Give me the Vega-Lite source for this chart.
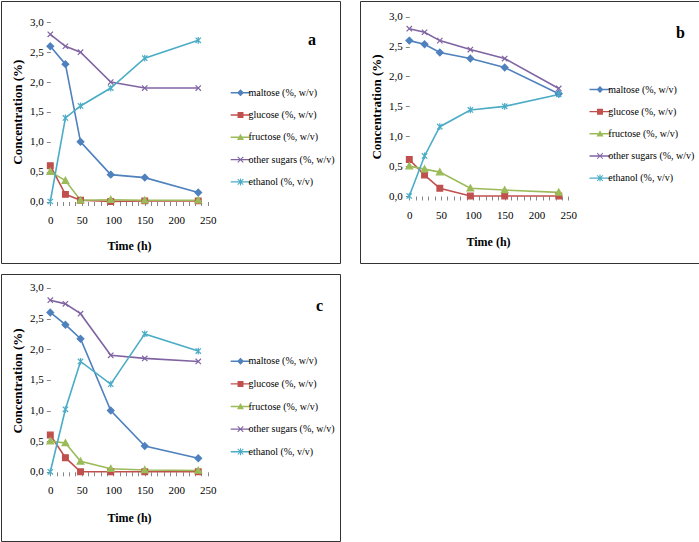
{
  "$schema": "https://vega.github.io/schema/vega-lite/v6.json",
  "background": "white",
  "padding": 0,
  "bounds": "flush",
  "columns": 2,
  "spacing": {"row": 11, "column": 20},
  "data": {"values": [
    {"panel":"a","series":"maltose (%, w/v)","time":0,"value":2.6},
    {"panel":"a","series":"maltose (%, w/v)","time":24,"value":2.3},
    {"panel":"a","series":"maltose (%, w/v)","time":48,"value":1.0},
    {"panel":"a","series":"maltose (%, w/v)","time":96,"value":0.45},
    {"panel":"a","series":"maltose (%, w/v)","time":150,"value":0.4},
    {"panel":"a","series":"maltose (%, w/v)","time":235,"value":0.15},
    {"panel":"a","series":"glucose (%, w/v)","time":0,"value":0.6},
    {"panel":"a","series":"glucose (%, w/v)","time":24,"value":0.12},
    {"panel":"a","series":"glucose (%, w/v)","time":48,"value":0.02},
    {"panel":"a","series":"glucose (%, w/v)","time":96,"value":0.0},
    {"panel":"a","series":"glucose (%, w/v)","time":150,"value":0.01},
    {"panel":"a","series":"glucose (%, w/v)","time":235,"value":0.01},
    {"panel":"a","series":"fructose (%, w/v)","time":0,"value":0.5},
    {"panel":"a","series":"fructose (%, w/v)","time":24,"value":0.35},
    {"panel":"a","series":"fructose (%, w/v)","time":48,"value":0.02},
    {"panel":"a","series":"fructose (%, w/v)","time":96,"value":0.03},
    {"panel":"a","series":"fructose (%, w/v)","time":150,"value":0.02},
    {"panel":"a","series":"fructose (%, w/v)","time":235,"value":0.02},
    {"panel":"a","series":"other sugars (%, w/v)","time":0,"value":2.8},
    {"panel":"a","series":"other sugars (%, w/v)","time":24,"value":2.6},
    {"panel":"a","series":"other sugars (%, w/v)","time":48,"value":2.5},
    {"panel":"a","series":"other sugars (%, w/v)","time":96,"value":2.0},
    {"panel":"a","series":"other sugars (%, w/v)","time":150,"value":1.9},
    {"panel":"a","series":"other sugars (%, w/v)","time":235,"value":1.9},
    {"panel":"a","series":"ethanol (%, v/v)","time":0,"value":0.0},
    {"panel":"a","series":"ethanol (%, v/v)","time":24,"value":1.4},
    {"panel":"a","series":"ethanol (%, v/v)","time":48,"value":1.6},
    {"panel":"a","series":"ethanol (%, v/v)","time":96,"value":1.9},
    {"panel":"a","series":"ethanol (%, v/v)","time":150,"value":2.4},
    {"panel":"a","series":"ethanol (%, v/v)","time":235,"value":2.7},
    {"panel":"b","series":"maltose (%, w/v)","time":0,"value":2.6},
    {"panel":"b","series":"maltose (%, w/v)","time":24,"value":2.54},
    {"panel":"b","series":"maltose (%, w/v)","time":48,"value":2.4},
    {"panel":"b","series":"maltose (%, w/v)","time":96,"value":2.3},
    {"panel":"b","series":"maltose (%, w/v)","time":150,"value":2.15},
    {"panel":"b","series":"maltose (%, w/v)","time":235,"value":1.71},
    {"panel":"b","series":"glucose (%, w/v)","time":0,"value":0.61},
    {"panel":"b","series":"glucose (%, w/v)","time":24,"value":0.35},
    {"panel":"b","series":"glucose (%, w/v)","time":48,"value":0.13},
    {"panel":"b","series":"glucose (%, w/v)","time":96,"value":0.0},
    {"panel":"b","series":"glucose (%, w/v)","time":150,"value":0.0},
    {"panel":"b","series":"glucose (%, w/v)","time":235,"value":0.0},
    {"panel":"b","series":"fructose (%, w/v)","time":0,"value":0.5},
    {"panel":"b","series":"fructose (%, w/v)","time":24,"value":0.45},
    {"panel":"b","series":"fructose (%, w/v)","time":48,"value":0.4},
    {"panel":"b","series":"fructose (%, w/v)","time":96,"value":0.13},
    {"panel":"b","series":"fructose (%, w/v)","time":150,"value":0.1},
    {"panel":"b","series":"fructose (%, w/v)","time":235,"value":0.06},
    {"panel":"b","series":"other sugars (%, w/v)","time":0,"value":2.8},
    {"panel":"b","series":"other sugars (%, w/v)","time":24,"value":2.74},
    {"panel":"b","series":"other sugars (%, w/v)","time":48,"value":2.6},
    {"panel":"b","series":"other sugars (%, w/v)","time":96,"value":2.45},
    {"panel":"b","series":"other sugars (%, w/v)","time":150,"value":2.3},
    {"panel":"b","series":"other sugars (%, w/v)","time":235,"value":1.8},
    {"panel":"b","series":"ethanol (%, v/v)","time":0,"value":0.0},
    {"panel":"b","series":"ethanol (%, v/v)","time":24,"value":0.67},
    {"panel":"b","series":"ethanol (%, v/v)","time":48,"value":1.16},
    {"panel":"b","series":"ethanol (%, v/v)","time":96,"value":1.44},
    {"panel":"b","series":"ethanol (%, v/v)","time":150,"value":1.5},
    {"panel":"b","series":"ethanol (%, v/v)","time":235,"value":1.7},
    {"panel":"c","series":"maltose (%, w/v)","time":0,"value":2.6},
    {"panel":"c","series":"maltose (%, w/v)","time":24,"value":2.4},
    {"panel":"c","series":"maltose (%, w/v)","time":48,"value":2.17},
    {"panel":"c","series":"maltose (%, w/v)","time":96,"value":1.0},
    {"panel":"c","series":"maltose (%, w/v)","time":150,"value":0.42},
    {"panel":"c","series":"maltose (%, w/v)","time":235,"value":0.22},
    {"panel":"c","series":"glucose (%, w/v)","time":0,"value":0.6},
    {"panel":"c","series":"glucose (%, w/v)","time":24,"value":0.23},
    {"panel":"c","series":"glucose (%, w/v)","time":48,"value":0.0},
    {"panel":"c","series":"glucose (%, w/v)","time":96,"value":0.0},
    {"panel":"c","series":"glucose (%, w/v)","time":150,"value":0.0},
    {"panel":"c","series":"glucose (%, w/v)","time":235,"value":0.0},
    {"panel":"c","series":"fructose (%, w/v)","time":0,"value":0.5},
    {"panel":"c","series":"fructose (%, w/v)","time":24,"value":0.47},
    {"panel":"c","series":"fructose (%, w/v)","time":48,"value":0.17},
    {"panel":"c","series":"fructose (%, w/v)","time":96,"value":0.05},
    {"panel":"c","series":"fructose (%, w/v)","time":150,"value":0.03},
    {"panel":"c","series":"fructose (%, w/v)","time":235,"value":0.02},
    {"panel":"c","series":"other sugars (%, w/v)","time":0,"value":2.8},
    {"panel":"c","series":"other sugars (%, w/v)","time":24,"value":2.74},
    {"panel":"c","series":"other sugars (%, w/v)","time":48,"value":2.58},
    {"panel":"c","series":"other sugars (%, w/v)","time":96,"value":1.9},
    {"panel":"c","series":"other sugars (%, w/v)","time":150,"value":1.85},
    {"panel":"c","series":"other sugars (%, w/v)","time":235,"value":1.8},
    {"panel":"c","series":"ethanol (%, v/v)","time":0,"value":0.0},
    {"panel":"c","series":"ethanol (%, v/v)","time":24,"value":1.02},
    {"panel":"c","series":"ethanol (%, v/v)","time":48,"value":1.8},
    {"panel":"c","series":"ethanol (%, v/v)","time":96,"value":1.43},
    {"panel":"c","series":"ethanol (%, v/v)","time":150,"value":2.25},
    {"panel":"c","series":"ethanol (%, v/v)","time":235,"value":1.97}
  ]},
  "concat": [
    {
      "width": 339, "height": 262,
      "title": {"text": "a", "orient": "top", "anchor": "end", "frame": "group", "offset": -47, "dx": -24, "font": "Liberation Serif", "fontSize": 16, "fontWeight": "bold", "color": "#000"},
      "transform": [{"filter": "datum.panel === 'a'"}],
      "encoding": {
        "x": {"field": "time", "type": "quantitative", "scale": {"domain": [-78.3, 460.1], "nice": false, "zero": false},
          "axis": {"values": [0,10,20,30,40,50,60,70,80,90,100,110,120,130,140,150,160,170,180,190,200,210,220,230,240,250], "labelExpr": "datum.value % 50 === 0 ? datum.label : ''", "offset": -61.5, "tickSize": 4, "labelPadding": 9, "labelFont": "Liberation Serif", "labelFontSize": 11, "title": "Time (h)", "titleFont": "Liberation Serif", "titleFontSize": 12, "titleFontWeight": "bold", "titleX": 128, "titleY": 44, "titleBaseline": "middle", "titleAnchor": null}},
        "y": {"field": "value", "type": "quantitative", "scale": {"domain": [-1.03, 3.358], "nice": false, "zero": false},
          "axis": {"values": [0,0.5,1,1.5,2,2.5,3], "labelExpr": "replace(format(datum.value, '.1f'), '.', ',')", "offset": -49.3, "tickSize": 4, "labelPadding": 3, "labelFont": "Liberation Serif", "labelFontSize": 11, "title": "Concentration (%)", "titleFont": "Liberation Serif", "titleFontSize": 13, "titleFontWeight": "bold", "titleX": -32.6, "titleY": 110.6, "titleBaseline": "middle", "titleAngle": -90}}
      },
      "layer": [
        {"mark": {"type": "line", "strokeWidth": 1.6},
         "encoding": {"color": {"field": "series", "type": "nominal", "legend": null, "scale": {"domain": ["maltose (%, w/v)","glucose (%, w/v)","fructose (%, w/v)","other sugars (%, w/v)","ethanol (%, v/v)"], "range": ["#4F81BD","#C0504D","#9BBB59","#8064A2","#4BACC6"]}}}},
        {"mark": {"type": "point", "filled": true, "size": 45, "strokeWidth": 1.2, "opacity": 1},
         "encoding": {
           "fill": {"field": "series", "type": "nominal", "legend": null, "scale": {"domain": ["maltose (%, w/v)","glucose (%, w/v)","fructose (%, w/v)","other sugars (%, w/v)","ethanol (%, v/v)"], "range": ["#4F81BD","#C0504D","#9BBB59","#8064A2","#4BACC6"]}},
           "stroke": {"field": "series", "type": "nominal", "legend": null, "scale": {"domain": ["maltose (%, w/v)","glucose (%, w/v)","fructose (%, w/v)","other sugars (%, w/v)","ethanol (%, v/v)"], "range": ["#4F81BD","#C0504D","#9BBB59","#8064A2","#4BACC6"]}},
           "shape": {"field": "series", "type": "nominal", "legend": null, "scale": {"domain": ["maltose (%, w/v)","glucose (%, w/v)","fructose (%, w/v)","other sugars (%, w/v)","ethanol (%, v/v)"], "range": ["M0,-1L1,0L0,1L-1,0Z","M-0.85,-0.85H0.85V0.85H-0.85Z","M0,-1L1,0.8H-1Z","M-0.8,-0.8L0.8,0.8M-0.8,0.8L0.8,-0.8","M-0.8,-0.8L0.8,0.8M-0.8,0.8L0.8,-0.8M0,-1V1"]}}
         }},
        {"mark": {"type": "point", "filled": true, "size": 0},
         "encoding": {
           "color": {"field": "series", "type": "nominal",
             "legend": {"orient": "none", "legendX": 234.5, "legendY": 86.7, "title": null, "padding": 0, "symbolSize": 49, "symbolStrokeWidth": 0, "symbolFillColor": "#000000", "symbolOpacity": 1, "labelOffset": 3, "rowPadding": 12.3, "labelFont": "Liberation Serif", "labelFontSize": 10, "labelColor": "#000"},
             "scale": {"domain": ["maltose (%, w/v)","glucose (%, w/v)","fructose (%, w/v)","other sugars (%, w/v)","ethanol (%, v/v)"], "range": ["#4F81BD","#C0504D","#9BBB59","#8064A2","#4BACC6"]}},
           "shape": {"field": "series", "type": "nominal",
             "legend": {"orient": "none", "legendX": 234.5, "legendY": 86.7, "title": null, "padding": 0, "symbolSize": 49, "symbolStrokeWidth": 0, "symbolFillColor": "#000000", "symbolOpacity": 1, "labelOffset": 3, "rowPadding": 12.3, "labelFont": "Liberation Serif", "labelFontSize": 10, "labelColor": "#000"},
             "scale": {"domain": ["maltose (%, w/v)","glucose (%, w/v)","fructose (%, w/v)","other sugars (%, w/v)","ethanol (%, v/v)"], "range": [
               "M-2.8,-0.2H2.8V0.2H-2.8ZM0,-1L1,0L0,1L-1,0Z",
               "M-2.8,-0.2H2.8V0.2H-2.8ZM-0.85,-0.85H0.85V0.85H-0.85Z",
               "M-2.8,-0.2H2.8V0.2H-2.8ZM0,-1L1,0.8H-1Z",
               "M-2.8,-0.2H2.8V0.2H-2.8ZM-0.694,-0.906L0.906,0.694L0.694,0.906L-0.906,-0.694ZM-0.906,0.694L0.694,-0.906L0.906,-0.694L-0.694,0.906Z",
               "M-2.8,-0.2H2.8V0.2H-2.8ZM-0.694,-0.906L0.906,0.694L0.694,0.906L-0.906,-0.694ZM-0.906,0.694L0.694,-0.906L0.906,-0.694L-0.694,0.906ZM-0.15,-1H0.15V1H-0.15Z"]}}
         }},
        {"data": {"values": [{"panel": "a"}]}, "mark": {"type": "rule", "color": "#868686", "strokeWidth": 1}, "encoding": {"x": {"datum": 0}, "x2": {"datum": 250}, "y": {"datum": 0}}},
        {"data": {"values": [{"panel": "a"}]}, "mark": {"type": "rule", "color": "#868686", "strokeWidth": 1}, "encoding": {"x": {"datum": 0}, "y": {"datum": 0}, "y2": {"datum": 3}}}
      ],
      "resolve": {"scale": {"shape": "independent", "color": "independent"}}
    },
    {
      "width": 339, "height": 262,
      "title": {"text": "b", "orient": "top", "anchor": "end", "frame": "group", "offset": -40, "dx": -14, "font": "Liberation Serif", "fontSize": 16, "fontWeight": "bold", "color": "#000"},
      "transform": [{"filter": "datum.panel === 'b'"}],
      "encoding": {
        "x": {"field": "time", "type": "quantitative", "scale": {"domain": [-77.5, 455.5], "nice": false, "zero": false},
          "axis": {"values": [0,10,20,30,40,50,60,70,80,90,100,110,120,130,140,150,160,170,180,190,200,210,220,230,240,250], "labelExpr": "datum.value % 50 === 0 ? datum.label : ''", "offset": -67, "tickSize": 4, "labelPadding": 9, "labelFont": "Liberation Serif", "labelFontSize": 11, "title": "Time (h)", "titleFont": "Liberation Serif", "titleFontSize": 12, "titleFontWeight": "bold", "titleX": 128, "titleY": 45, "titleBaseline": "middle", "titleAnchor": null}},
        "y": {"field": "value", "type": "quantitative", "scale": {"domain": [-1.121, 3.263], "nice": false, "zero": false},
          "axis": {"values": [0,0.5,1,1.5,2,2.5,3], "labelExpr": "replace(format(datum.value, '.1f'), '.', ',')", "offset": -49.3, "tickSize": 4, "labelPadding": 3, "labelFont": "Liberation Serif", "labelFontSize": 11, "title": "Concentration (%)", "titleFont": "Liberation Serif", "titleFontSize": 13, "titleFontWeight": "bold", "titleX": -32.6, "titleY": 105.5, "titleBaseline": "middle", "titleAngle": -90}}
      },
      "layer": [
        {"mark": {"type": "line", "strokeWidth": 1.6},
         "encoding": {"color": {"field": "series", "type": "nominal", "legend": null, "scale": {"domain": ["maltose (%, w/v)","glucose (%, w/v)","fructose (%, w/v)","other sugars (%, w/v)","ethanol (%, v/v)"], "range": ["#4F81BD","#C0504D","#9BBB59","#8064A2","#4BACC6"]}}}},
        {"mark": {"type": "point", "filled": true, "size": 45, "strokeWidth": 1.2, "opacity": 1},
         "encoding": {
           "fill": {"field": "series", "type": "nominal", "legend": null, "scale": {"domain": ["maltose (%, w/v)","glucose (%, w/v)","fructose (%, w/v)","other sugars (%, w/v)","ethanol (%, v/v)"], "range": ["#4F81BD","#C0504D","#9BBB59","#8064A2","#4BACC6"]}},
           "stroke": {"field": "series", "type": "nominal", "legend": null, "scale": {"domain": ["maltose (%, w/v)","glucose (%, w/v)","fructose (%, w/v)","other sugars (%, w/v)","ethanol (%, v/v)"], "range": ["#4F81BD","#C0504D","#9BBB59","#8064A2","#4BACC6"]}},
           "shape": {"field": "series", "type": "nominal", "legend": null, "scale": {"domain": ["maltose (%, w/v)","glucose (%, w/v)","fructose (%, w/v)","other sugars (%, w/v)","ethanol (%, v/v)"], "range": ["M0,-1L1,0L0,1L-1,0Z","M-0.85,-0.85H0.85V0.85H-0.85Z","M0,-1L1,0.8H-1Z","M-0.8,-0.8L0.8,0.8M-0.8,0.8L0.8,-0.8","M-0.8,-0.8L0.8,0.8M-0.8,0.8L0.8,-0.8M0,-1V1"]}}
         }},
        {"mark": {"type": "point", "filled": true, "size": 0},
         "encoding": {
           "color": {"field": "series", "type": "nominal",
             "legend": {"orient": "none", "legendX": 235, "legendY": 83.5, "title": null, "padding": 0, "symbolSize": 49, "symbolStrokeWidth": 0, "symbolFillColor": "#000000", "symbolOpacity": 1, "labelOffset": 3.3, "rowPadding": 12.15, "labelFont": "Liberation Serif", "labelFontSize": 10, "labelColor": "#000"},
             "scale": {"domain": ["maltose (%, w/v)","glucose (%, w/v)","fructose (%, w/v)","other sugars (%, w/v)","ethanol (%, v/v)"], "range": ["#4F81BD","#C0504D","#9BBB59","#8064A2","#4BACC6"]}},
           "shape": {"field": "series", "type": "nominal",
             "legend": {"orient": "none", "legendX": 235, "legendY": 83.5, "title": null, "padding": 0, "symbolSize": 49, "symbolStrokeWidth": 0, "symbolFillColor": "#000000", "symbolOpacity": 1, "labelOffset": 3.3, "rowPadding": 12.15, "labelFont": "Liberation Serif", "labelFontSize": 10, "labelColor": "#000"},
             "scale": {"domain": ["maltose (%, w/v)","glucose (%, w/v)","fructose (%, w/v)","other sugars (%, w/v)","ethanol (%, v/v)"], "range": [
               "M-3,-0.2H3V0.2H-3ZM0,-1L1,0L0,1L-1,0Z",
               "M-3,-0.2H3V0.2H-3ZM-0.85,-0.85H0.85V0.85H-0.85Z",
               "M-3,-0.2H3V0.2H-3ZM0,-1L1,0.8H-1Z",
               "M-3,-0.2H3V0.2H-3ZM-0.694,-0.906L0.906,0.694L0.694,0.906L-0.906,-0.694ZM-0.906,0.694L0.694,-0.906L0.906,-0.694L-0.694,0.906Z",
               "M-3,-0.2H3V0.2H-3ZM-0.694,-0.906L0.906,0.694L0.694,0.906L-0.906,-0.694ZM-0.906,0.694L0.694,-0.906L0.906,-0.694L-0.694,0.906ZM-0.15,-1H0.15V1H-0.15Z"]}}
         }},
        {"data": {"values": [{"panel": "b"}]}, "mark": {"type": "rule", "color": "#868686", "strokeWidth": 1}, "encoding": {"x": {"datum": 0}, "x2": {"datum": 250}, "y": {"datum": 0}}},
        {"data": {"values": [{"panel": "b"}]}, "mark": {"type": "rule", "color": "#868686", "strokeWidth": 1}, "encoding": {"x": {"datum": 0}, "y": {"datum": 0}, "y2": {"datum": 3}}}
      ],
      "resolve": {"scale": {"shape": "independent", "color": "independent"}}
    },
    {
      "width": 339, "height": 267,
      "title": {"text": "c", "orient": "top", "anchor": "end", "frame": "group", "offset": -40, "dx": -17, "font": "Liberation Serif", "fontSize": 16, "fontWeight": "bold", "color": "#000"},
      "transform": [{"filter": "datum.panel === 'c'"}],
      "encoding": {
        "x": {"field": "time", "type": "quantitative", "scale": {"domain": [-78.3, 460.1], "nice": false, "zero": false},
          "axis": {"values": [0,10,20,30,40,50,60,70,80,90,100,110,120,130,140,150,160,170,180,190,200,210,220,230,240,250], "labelExpr": "datum.value % 50 === 0 ? datum.label : ''", "offset": -69.2, "tickSize": 4, "labelPadding": 9, "labelFont": "Liberation Serif", "labelFontSize": 11, "title": "Time (h)", "titleFont": "Liberation Serif", "titleFontSize": 12, "titleFontWeight": "bold", "titleX": 128, "titleY": 46, "titleBaseline": "middle", "titleAnchor": null}},
        "y": {"field": "value", "type": "quantitative", "scale": {"domain": [-1.129, 3.227], "nice": false, "zero": false},
          "axis": {"values": [0,0.5,1,1.5,2,2.5,3], "labelExpr": "replace(format(datum.value, '.1f'), '.', ',')", "offset": -49.3, "tickSize": 4, "labelPadding": 3, "labelFont": "Liberation Serif", "labelFontSize": 11, "title": "Concentration (%)", "titleFont": "Liberation Serif", "titleFontSize": 13, "titleFontWeight": "bold", "titleX": -32.6, "titleY": 106.4, "titleBaseline": "middle", "titleAngle": -90}}
      },
      "layer": [
        {"mark": {"type": "line", "strokeWidth": 1.6},
         "encoding": {"color": {"field": "series", "type": "nominal", "legend": null, "scale": {"domain": ["maltose (%, w/v)","glucose (%, w/v)","fructose (%, w/v)","other sugars (%, w/v)","ethanol (%, v/v)"], "range": ["#4F81BD","#C0504D","#9BBB59","#8064A2","#4BACC6"]}}}},
        {"mark": {"type": "point", "filled": true, "size": 45, "strokeWidth": 1.2, "opacity": 1},
         "encoding": {
           "fill": {"field": "series", "type": "nominal", "legend": null, "scale": {"domain": ["maltose (%, w/v)","glucose (%, w/v)","fructose (%, w/v)","other sugars (%, w/v)","ethanol (%, v/v)"], "range": ["#4F81BD","#C0504D","#9BBB59","#8064A2","#4BACC6"]}},
           "stroke": {"field": "series", "type": "nominal", "legend": null, "scale": {"domain": ["maltose (%, w/v)","glucose (%, w/v)","fructose (%, w/v)","other sugars (%, w/v)","ethanol (%, v/v)"], "range": ["#4F81BD","#C0504D","#9BBB59","#8064A2","#4BACC6"]}},
           "shape": {"field": "series", "type": "nominal", "legend": null, "scale": {"domain": ["maltose (%, w/v)","glucose (%, w/v)","fructose (%, w/v)","other sugars (%, w/v)","ethanol (%, v/v)"], "range": ["M0,-1L1,0L0,1L-1,0Z","M-0.85,-0.85H0.85V0.85H-0.85Z","M0,-1L1,0.8H-1Z","M-0.8,-0.8L0.8,0.8M-0.8,0.8L0.8,-0.8","M-0.8,-0.8L0.8,0.8M-0.8,0.8L0.8,-0.8M0,-1V1"]}}
         }},
        {"mark": {"type": "point", "filled": true, "size": 0},
         "encoding": {
           "color": {"field": "series", "type": "nominal",
             "legend": {"orient": "none", "legendX": 234.5, "legendY": 82.3, "title": null, "padding": 0, "symbolSize": 49, "symbolStrokeWidth": 0, "symbolFillColor": "#000000", "symbolOpacity": 1, "labelOffset": 3, "rowPadding": 12.6, "labelFont": "Liberation Serif", "labelFontSize": 10, "labelColor": "#000"},
             "scale": {"domain": ["maltose (%, w/v)","glucose (%, w/v)","fructose (%, w/v)","other sugars (%, w/v)","ethanol (%, v/v)"], "range": ["#4F81BD","#C0504D","#9BBB59","#8064A2","#4BACC6"]}},
           "shape": {"field": "series", "type": "nominal",
             "legend": {"orient": "none", "legendX": 234.5, "legendY": 82.3, "title": null, "padding": 0, "symbolSize": 49, "symbolStrokeWidth": 0, "symbolFillColor": "#000000", "symbolOpacity": 1, "labelOffset": 3, "rowPadding": 12.6, "labelFont": "Liberation Serif", "labelFontSize": 10, "labelColor": "#000"},
             "scale": {"domain": ["maltose (%, w/v)","glucose (%, w/v)","fructose (%, w/v)","other sugars (%, w/v)","ethanol (%, v/v)"], "range": [
               "M-2.8,-0.2H2.8V0.2H-2.8ZM0,-1L1,0L0,1L-1,0Z",
               "M-2.8,-0.2H2.8V0.2H-2.8ZM-0.85,-0.85H0.85V0.85H-0.85Z",
               "M-2.8,-0.2H2.8V0.2H-2.8ZM0,-1L1,0.8H-1Z",
               "M-2.8,-0.2H2.8V0.2H-2.8ZM-0.694,-0.906L0.906,0.694L0.694,0.906L-0.906,-0.694ZM-0.906,0.694L0.694,-0.906L0.906,-0.694L-0.694,0.906Z",
               "M-2.8,-0.2H2.8V0.2H-2.8ZM-0.694,-0.906L0.906,0.694L0.694,0.906L-0.906,-0.694ZM-0.906,0.694L0.694,-0.906L0.906,-0.694L-0.694,0.906ZM-0.15,-1H0.15V1H-0.15Z"]}}
         }},
        {"data": {"values": [{"panel": "c"}]}, "mark": {"type": "rule", "color": "#868686", "strokeWidth": 1}, "encoding": {"x": {"datum": 0}, "x2": {"datum": 250}, "y": {"datum": 0}}},
        {"data": {"values": [{"panel": "c"}]}, "mark": {"type": "rule", "color": "#868686", "strokeWidth": 1}, "encoding": {"x": {"datum": 0}, "y": {"datum": 0}, "y2": {"datum": 3}}}
      ],
      "resolve": {"scale": {"shape": "independent", "color": "independent"}}
    }
  ],
  "config": {
    "font": "Liberation Serif",
    "view": {"stroke": "#333333", "strokeWidth": 1},
    "axis": {"labelFont": "Liberation Serif", "titleFont": "Liberation Serif", "labelColor": "#000000", "titleColor": "#000000", "tickColor": "#868686", "domain": false, "grid": false, "labelOverlap": false, "labelFlush": false},
    "legend": {"labelFont": "Liberation Serif", "labelColor": "#000000", "labelFontSize": 10}
  }
}
